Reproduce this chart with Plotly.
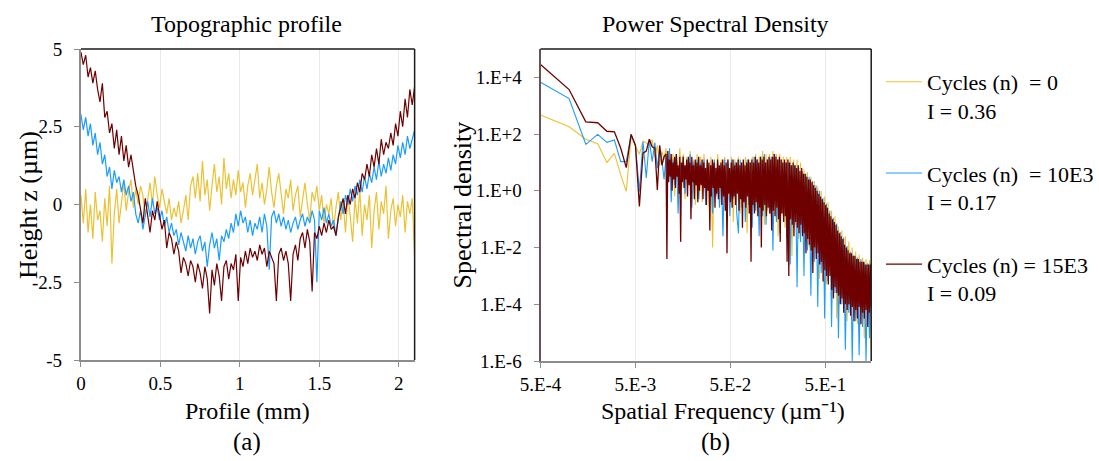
import numpy as np
import plotly.graph_objects as go

# ---------------- (a) Topographic profile ----------------
profile_step_mm = 0.015
profile_x_mm = [round(i * profile_step_mm, 3) for i in range(141)]

height_n0 = [
    0.3, -0.6, 0.5, -0.9, 0.0, -1.1, 0.4, -0.5, -0.2, -1.2,
    0.2, -0.7, 0.6, -1.9, -0.3, 0.5, -0.6, 0.1, 0.7, -0.2,
    0.4, 0.8, -0.1, 0.5, 0.0, 0.6, 0.3, -0.4, 0.2, 0.7,
    0.0, 0.9, 0.3, -0.1, 0.5, 0.1, -0.3, 0.2, -0.5, -0.1,
    -0.4, 0.1, -0.6, -0.2, 0.3, -0.5, 0.6, 0.9, 0.2, 1.0,
    0.1, 1.4, 0.3, 0.8, -0.2, 0.6, 1.3, 0.4, 0.9, 0.0,
    1.5, 0.5, 1.0, 0.2, 0.8, 0.3, 1.1, 0.4, 0.7, -0.1,
    0.6, 1.0, 0.3, 0.8, 1.3, 0.2, 0.7, 0.0, 0.5, 1.2,
    0.4, -0.1, 0.6, 1.0, 0.3, -0.3, 0.5, 0.2, 0.8, -0.2,
    0.3, 0.6, -0.4, 0.2, 0.7, 0.0, -0.5, 0.4, 0.1, 0.6,
    -0.2, 0.3, -0.6, 0.0, -0.3, 0.2, -0.8, -0.1, 0.4, -0.5,
    0.1, -0.9, 0.3, -0.4, -1.2, 0.2, -0.6, 0.5, -1.0, 0.0,
    -0.5, 0.3, -1.4, -0.2, 0.4, -0.8, 0.1, -0.3, 0.6, -1.1,
    -0.2, 0.2, -0.7, 0.0, -0.4, 0.3, -0.9, 0.1, -0.3, 0.2,
    -1.7,
]

height_n10k = [
    2.9, 2.4, 2.8, 2.2, 2.6, 1.9, 2.3, 1.6, 2.0, 1.3,
    1.6, 0.9, 1.2, 0.5, 1.1, 0.7, 0.9, 0.4, 0.8, 0.3,
    0.6, 0.1, 0.4, -0.3, -0.6, -0.2, -0.8, -0.3, 0.1, -0.4,
    0.2, -0.3, -0.1, -0.5, -0.2, -0.7, -0.4, -0.9, -0.6, -1.0,
    -0.8, -1.3, -0.9, -1.2, -1.5, -1.0, -1.4, -1.1, -1.6, -1.2,
    -1.0, -1.5, -1.2, -2.0, -1.3, -0.9, -1.4, -1.1, -1.8, -1.0,
    -1.2, -0.8, -1.1, -0.6, -0.9, -0.3, -0.7, -0.2, -0.6, -0.4,
    -0.9, -0.5, -1.0, -0.6, -0.8, -0.4, -0.9, -0.3, -0.7, -2.1,
    -0.4, -0.2, -0.6, -0.3, -0.7, -0.4, -0.8, -0.5, -0.9, -0.6,
    -0.4, -0.8, -0.5, -0.3, -0.7, -0.4, -0.6, -0.2, -0.5, -2.5,
    -0.2, -0.5, -0.1, -0.6, -0.3, -0.7, -0.5, -1.0, -0.4, 0.1,
    -0.3, 0.3, 0.0, 0.5, 0.1, 0.6, 0.3, 0.8, 0.4, 0.9,
    0.5, 1.0, 0.7, 1.2, 0.8, 1.4, 0.9, 1.3, 1.0, 1.5,
    1.1, 1.6, 1.3, 1.9, 1.5, 2.0, 1.6, 2.2, 1.8, 2.1,
    2.4,
]

height_n15k = [
    4.9, 4.5, 4.8, 4.1, 4.4, 3.9, 4.3, 3.7, 3.3, 3.9,
    2.8, 3.0, 2.3, 2.6, 1.8, 2.4, 1.6, 2.2, 1.4, 1.9,
    1.2, 1.6, 1.1, 0.6, 0.3, -0.1, -0.6, 0.2, -0.4, -0.9,
    -0.2, -0.5, 0.1, -0.3, -0.8, -0.5, -1.4, -0.9, -1.1, -1.6,
    -1.2, -1.5, -2.2, -1.7, -1.9, -2.3, -1.8, -2.0, -2.5, -1.9,
    -2.2, -2.7, -2.0, -2.4, -3.5, -2.1, -2.6, -1.9, -2.3, -3.1,
    -2.0, -1.8, -2.4, -1.9, -2.1, -1.6, -3.1, -1.7, -2.0, -1.5,
    -1.9, -1.4, -1.7, -1.5, -1.8, -1.3, -1.6, -1.4, -2.0, -1.5,
    -1.7, -1.9, -3.1, -1.6, -1.4, -1.8, -1.5, -1.9, -3.1, -1.6,
    -1.3, -1.8, -1.1, -0.9, -1.4, -0.8, -1.2, -2.8, -0.9, -1.1,
    -0.7, -1.0, -0.6, -0.9, -0.5, -0.8, -0.7, -1.0, -0.4, -0.1,
    0.2, -0.3, 0.3, 0.0, 0.5, 0.2, 0.7, 0.4, 1.0, 0.8,
    1.3, 0.9, 1.6, 1.2, 1.8, 1.3, 2.1, 1.6, 2.0, 1.8,
    2.3, 1.9, 2.6, 2.2, 3.0, 2.5, 3.4, 2.8, 3.7, 3.2,
    3.8,
]

profile_xticks = [0, 0.5, 1, 1.5, 2]
profile_xticklabels = ["0", "0.5", "1", "1.5", "2"]
profile_yticks = [-5, -2.5, 0, 2.5, 5]
profile_yticklabels = ["-5", "-2.5", "0", "2.5", "5"]

# ---------------- (b) Power spectral density ----------------
# first FFT bins (step 5E-4 µm^-1), then a log-spaced sampling of the dense band
psd_freq_low = [0.0005, 0.001, 0.0015, 0.002, 0.0025, 0.003, 0.0035, 0.004, 0.0045, 0.005,
                0.0055, 0.006, 0.0065, 0.007, 0.0075, 0.008, 0.0085, 0.009, 0.0095, 0.010]
psd_freq_high = list(np.logspace(np.log10(0.0105), np.log10(1.52), 120))
psd_freq_high_fine = list(np.logspace(np.log10(0.0105), np.log10(1.52), 240))
psd_freq = psd_freq_low + psd_freq_high
psd_freq_fine = psd_freq_low + psd_freq_high_fine

# spectral density read as powers of ten
psd_log10_n0 = [
    2.67, 2.26, 1.82, 1.66, 1.0, 1.32, 0.56, -0.02, 1.9, 1.6,
    1.29, 1.75, 1.7, 1.6, 1.8, 1.2, 1.6, 0.9, 1.4, 1.1,
    1.5, 0.3, 1.4, 0.6, 1.3, -0.2, 1.2, 0.4, 1.5, 0.1,
    1.3, -0.3, 1.2, 0.5, 1.4, 0.0, 1.1, -0.5, 1.3, 0.2,
    1.2, -0.4, 1.3, 0.1, 1.1, -0.6, 1.2, -2.0, 1.0, 0.0,
    1.3, -0.5, 1.1, -0.2, 1.2, -0.9, 1.1, -0.3, 1.2, -1.1,
    1.1, -0.4, 1.2, -0.8, 1.0, -0.2, 1.2, -1.5, 1.1, -0.5,
    1.2, -0.6, 1.3, -0.9, 1.2, -0.4, 1.4, -1.2, 1.3, -0.7,
    1.3, -0.9, 1.4, -0.5, 1.3, -1.6, 1.3, -0.8, 1.2, -1.3,
    1.2, -1.0, 1.2, -2.3, 1.1, -1.2, 1.1, -1.7, 1.0, -1.5,
    0.75, -1.8, 0.65, -2.0, 0.5, -2.6, 0.35, -2.2, 0.15, -3.1,
    0.0, -2.6, -0.2, -3.3, -0.4, -2.9, -0.7, -3.5, -0.9, -4.5,
    -1.25, -3.3, -1.4, -3.9, -1.6, -4.6, -1.8, -3.8, -2.0, -4.4,
    -2.15, -4.7, -2.25, -4.0, -2.35, -5.2, -2.4, -4.5, -2.45, -5.6,
]

psd_log10_n10k = [
    3.83, 3.25, 1.64, 1.99, 1.71, 1.79, 1.03, 1.03, 1.99, 1.6,
    -0.02, 1.73, 0.45, 1.8, 1.03, 1.7, 0.8, 1.5, 1.1, 0.4,
    1.2, 0.4, 1.5, -0.4, 1.1, 0.2, 1.3, -0.8, 1.0, 0.3,
    1.2, -0.1, 1.0, 0.4, 1.3, -0.6, 1.0, 0.2, 1.1, -0.3,
    1.0, 0.3, 1.1, -0.5, 1.0, 0.0, 0.9, -0.8, 1.1, -0.2,
    1.0, -0.6, 0.9, -1.6, 1.1, -0.4, 1.0, -0.9, 1.1, -0.3,
    1.0, -0.8, -1.5, 1.1, -0.6, 1.0, -1.1, 1.1, -0.5, 1.0,
    -1.3, 1.2, -0.7, 1.1, -1.6, 1.2, -0.9, 1.3, -1.2, 1.1,
    -0.8, 1.2, -2.1, 1.3, -1.1, 1.1, -1.5, 1.1, -0.9, 1.0,
    -1.7, 1.0, -2.6, 0.9, -1.3, 0.9, -3.4, 0.8, -1.8, 0.7,
    -3.0, 0.6, -2.1, 0.5, -3.7, 0.35, -2.5, 0.2, -4.1, 0.0,
    -2.9, -0.25, -4.5, -0.45, -3.2, -0.7, -4.8, -0.95, -3.6, -1.15,
    -5.2, -1.45, -4.0, -1.65, -5.6, -1.95, -4.3, -2.15, -6.0, -2.25,
    -4.6, -2.35, -5.8, -2.4, -4.8, -2.5, -6.0, -2.55, -5.2, -2.55,
]

# n = 15E3 is read on the finer frequency sampling (20 low bins + 240 values)
psd_log10_n15k = [
    4.45, 3.57, 2.43, 2.40, 2.1, 2.08, 1.5, 0.82, 1.99, 1.6,
    -0.55, 1.33, 1.4, 1.82, 1.55, 1.5, 0.03, 1.6, 0.9, 1.2,
    1.3, -2.4, 1.4, 0.3, 1.1, 0.5, 1.3, 0.0, 1.0, 0.4,
    1.2, 0.1, 1.3, 0.5, 0.9, -0.1, 1.2, -1.8, 1.0, 0.3,
    1.2, 0.1, 0.9, 0.4, 1.1, -0.2, 1.2, 0.2, 1.0, -1.0,
    1.2, 0.3, 0.9, -0.3, 1.1, 0.2, 1.0, -0.4, 1.2, 0.0,
    0.9, 0.2, 1.1, -0.3, 1.0, 0.1, 0.8, -0.5, 1.1, 0.0,
    1.0, -1.4, 0.9, -0.2, 1.1, 0.1, 1.0, -0.6, 0.8, -0.1,
    1.1, -0.3, 0.9, 0.1, 1.0, -0.5, 1.1, -0.2, 0.9, -0.7,
    1.0, -2.2, 1.1, -0.1, 0.8, -0.4, 1.0, -0.6, 1.1, -0.2,
    0.9, -0.5, 1.0, -0.1, 1.1, -0.7, 0.9, -0.3, 1.0, -1.3,
    1.1, -0.4, 0.9, -0.6, 1.0, -0.2, 1.1, -0.8, 1.0, -2.5,
    1.1, -0.5, 1.0, -0.8, 1.2, -0.4, 1.1, -0.9, 1.0, -0.6,
    1.2, -2.0, 1.1, -0.7, 1.2, -0.5, 1.0, -0.9, 1.1, -0.6,
    1.2, -0.8, 1.1, -1.4, 1.2, -0.7, 1.3, -0.9, 1.2, -0.6,
    1.1, -1.0, 1.2, -1.8, 1.1, -0.8, 1.0, -1.1, 1.1, -0.9,
    1.0, -2.5, 1.1, -3.0, 1.0, -1.0, 0.9, -1.2, 1.0, -1.6,
    0.9, -1.1, 0.8, -1.3, 0.9, -1.5, 0.7, -1.2, 0.8, -1.6,
    0.6, -1.5, 0.6, -2.2, 0.5, -1.7, 0.4, -1.9, 0.4, -2.1,
    0.3, -2.9, 0.2, -2.0, 0.1, -2.4, 0.0, -2.2, -0.1, -2.6,
    -0.2, -2.5, -0.3, -3.2, -0.4, -2.8, -0.5, -3.0, -0.6, -3.3,
    -0.8, -3.0, -0.9, -3.5, -1.0, -3.8, -1.1, -3.4, -1.2, -3.6,
    -1.4, -3.7, -1.5, -4.0, -1.6, -3.8, -1.7, -4.3, -1.9, -4.0,
    -2.0, -4.2, -2.1, -4.0, -2.2, -4.4, -2.2, -4.1, -2.3, -4.6,
    -2.3, -4.2, -2.4, -4.5, -2.4, -4.1, -2.5, -4.7, -2.5, -4.3,
    -2.5, -4.5, -2.6, -4.2, -2.6, -4.8, -2.6, -4.3, -2.6, -4.1,
]

psd_xticks = [5e-4, 5e-3, 5e-2, 5e-1]
psd_xticklabels = ["5.E-4", "5.E-3", "5.E-2", "5.E-1"]
psd_yticks = [1e-6, 1e-4, 1e-2, 1e0, 1e2, 1e4]
psd_yticklabels = ["1.E-6", "1.E-4", "1.E-2", "1.E+0", "1.E+2", "1.E+4"]

series_names = [
    "Cycles (n)\u00a0 = 0<br>I = 0.36",
    "Cycles (n)\u00a0 = 10E3<br>I = 0.17",
    "Cycles (n) = 15E3<br>I = 0.09",
]
series_colors = ["#EBC234", "#1C9CFF", "#6E0000"]

# ---------------- figure ----------------
W, H = 1099, 461
FONT = "Liberation Serif, Times New Roman, serif"


def px(x):
    return x / W


def py(y):
    return 1 - y / H


fig = go.Figure()

profiles = [height_n0, height_n10k, height_n15k]
psd_x = [psd_freq, psd_freq, psd_freq_fine]
psds = [psd_log10_n0, psd_log10_n10k, psd_log10_n15k]
psd_widths = [1.1, 1.1, 1.3]
for i in range(3):
    fig.add_trace(go.Scatter(
        x=profile_x_mm, y=profiles[i], mode="lines",
        line=dict(color=series_colors[i], width=1.2),
        xaxis="x", yaxis="y", showlegend=False, legendgroup=f"g{i}",
    ))
for i in range(3):
    fig.add_trace(go.Scatter(
        x=psd_x[i], y=[10 ** v for v in psds[i]], mode="lines",
        line=dict(color=series_colors[i], width=psd_widths[i]),
        xaxis="x2", yaxis="y2", name=series_names[i], showlegend=True,
        legendgroup=f"g{i}",
    ))

tickfont = dict(family=FONT, size=19, color="black")
axis_gray = "#8c8c8c"
common = dict(automargin=False, ticks="outside", ticklen=5, tickcolor=axis_gray,
              tickwidth=1, showline=True, linewidth=2, zeroline=False,
              tickfont=tickfont)

fig.update_layout(
    template="none",
    width=W, height=H,
    margin=dict(l=0, r=0, t=0, b=0, pad=0),
    paper_bgcolor="white", plot_bgcolor="white",
    font=dict(family=FONT, color="black"),
    xaxis=dict(
        domain=[px(81), px(415)], range=[0, 2.1], anchor="y",
        tickvals=profile_xticks, ticktext=profile_xticklabels,
        linecolor=axis_gray, showgrid=True, gridcolor="#e9e9e9", gridwidth=1,
        ticklabelstandoff=0, **common,
    ),
    yaxis=dict(
        domain=[py(360), py(49)], range=[-5, 5], anchor="x",
        tickvals=profile_yticks, ticktext=profile_yticklabels,
        linecolor=axis_gray, showgrid=False, ticklabelstandoff=8, **common,
    ),
    xaxis2=dict(
        domain=[px(541), px(872)], type="log",
        range=[np.log10(5e-4), np.log10(1.52)], anchor="y2",
        tickvals=psd_xticks, ticktext=psd_xticklabels,
        linecolor=axis_gray, showgrid=True, gridcolor="#e9e9e9", gridwidth=1,
        ticklabelstandoff=0, **common,
    ),
    yaxis2=dict(
        domain=[py(361), py(49)], type="log", range=[-6, 5], anchor="x2",
        tickvals=psd_yticks, ticktext=psd_yticklabels,
        linecolor="#6a5158", showgrid=False, ticklabelstandoff=8, **common,
    ),
    legend=dict(
        x=px(882), y=py(61), xanchor="left", yanchor="top",
        font=dict(family=FONT, size=22, color="black"),
        traceorder="grouped", tracegroupgap=31, valign="top",
        bgcolor="rgba(0,0,0,0)", itemwidth=36,
    ),
)

# top/right frame lines of both plot areas
for xr, yr in (("x domain", "y domain"), ("x2 domain", "y2 domain")):
    fig.add_shape(type="line", xref=xr, yref=yr, x0=0, x1=1, y0=1, y1=1,
                  line=dict(color="#1a1a1a", width=1.5), layer="above")
    fig.add_shape(type="line", xref=xr, yref=yr, x0=1, x1=1, y0=0, y1=1,
                  line=dict(color="#1a1a1a", width=1.5), layer="above")

ann = [
    ("Topographic profile", 247, 24, 0, 24),
    ("Power Spectral Density", 716, 24, 0, 24),
    ("Profile (mm)", 248, 411, 0, 24),
    ("Spatial Frequency (µm\u207b\u00b9)", 724, 411, 0, 24),
    ("(a)", 247, 442, 0, 25),
    ("(b)", 716, 442, 0, 25),
    ("Height z (µm)", 28, 205, -90, 26),
    ("Spectral density", 462, 205, -90, 26),
]
for text, x, y, ang, size in ann:
    fig.add_annotation(
        text=text, x=px(x), y=py(y), xref="paper", yref="paper",
        xanchor="center", yanchor="middle", showarrow=False, textangle=ang,
        font=dict(family=FONT, size=size, color="black"),
    )

fig.write_html("out.html")
